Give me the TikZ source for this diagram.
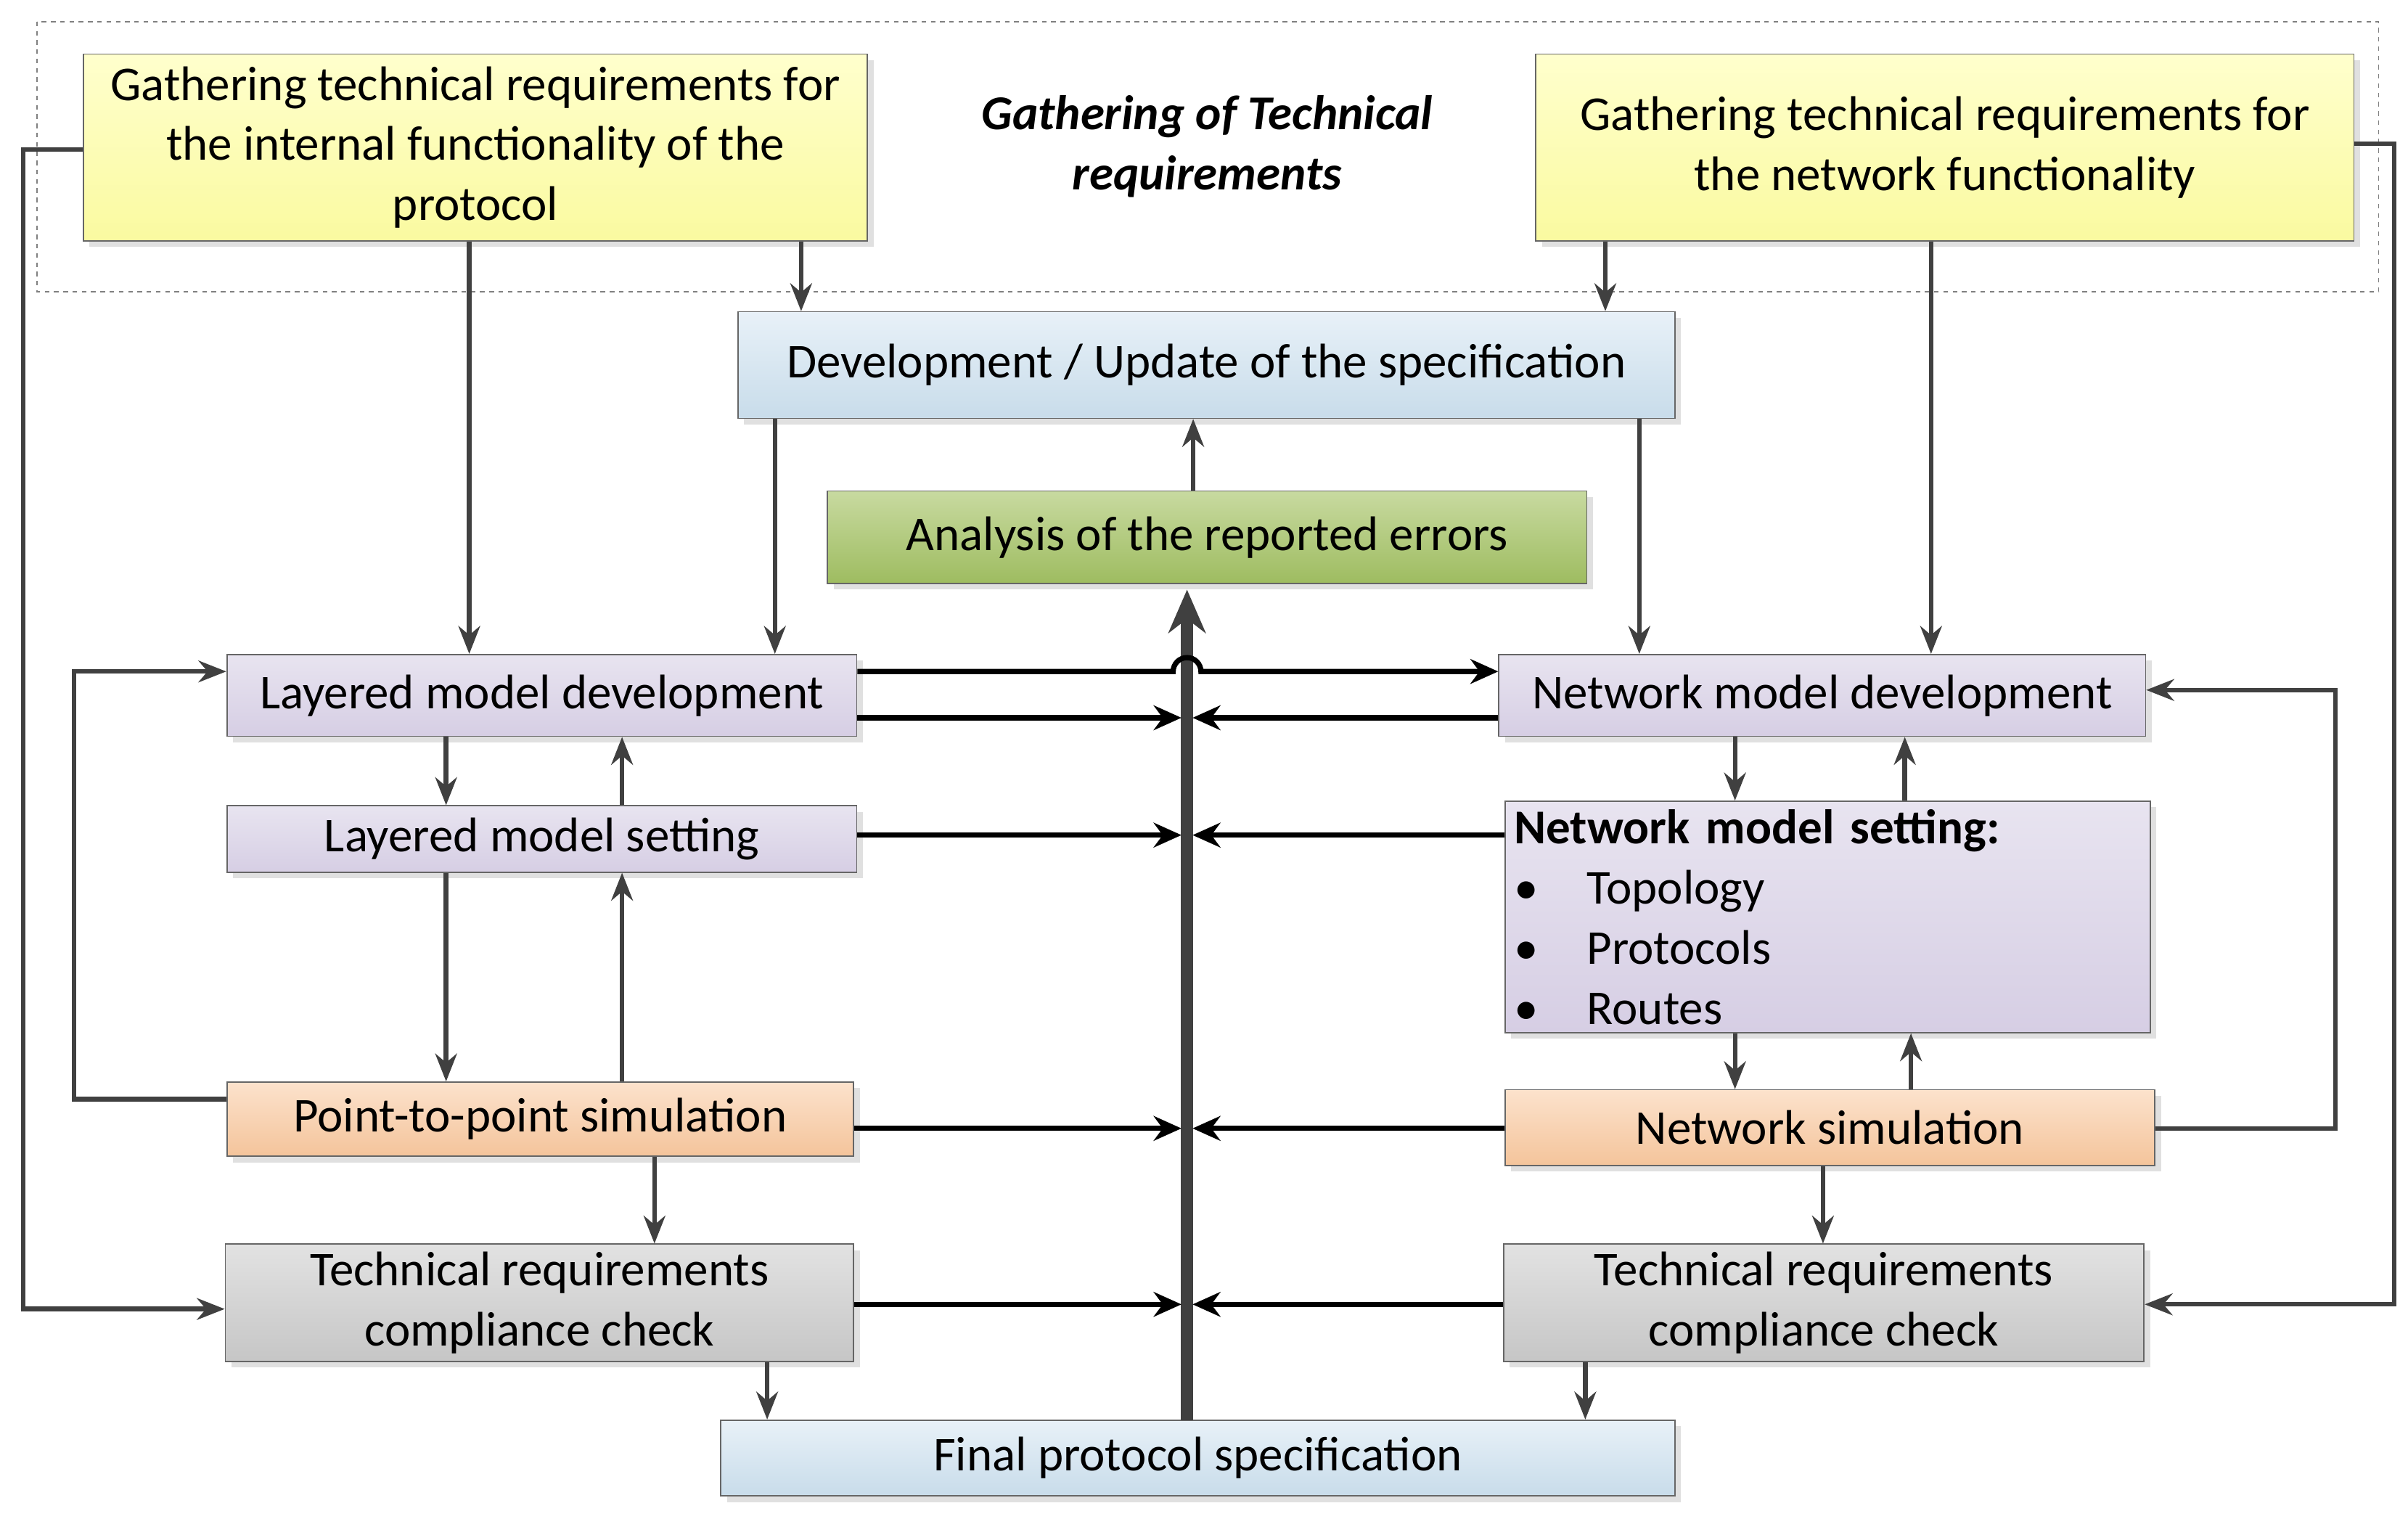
\documentclass[tikz,border=0pt]{standalone}
\usepackage{fontspec}
\setmainfont{Carlito}
\usetikzlibrary{arrows.meta,shadows}
\definecolor{yellowtop}{RGB}{255,255,205}
\definecolor{yellowbot}{RGB}{250,250,160}
\definecolor{bluetop}{RGB}{232,241,248}
\definecolor{bluebot}{RGB}{200,220,234}
\definecolor{greentop}{RGB}{200,218,160}
\definecolor{greenbot}{RGB}{158,188,96}
\definecolor{lilactop}{RGB}{232,228,240}
\definecolor{lilacbot}{RGB}{214,206,228}
\definecolor{peachtop}{RGB}{252,226,204}
\definecolor{peachbot}{RGB}{244,196,155}
\definecolor{greytop}{RGB}{226,226,226}
\definecolor{greybot}{RGB}{198,198,198}
\definecolor{linegrey}{RGB}{64,64,64}
\tikzset{
  box/.style={draw=gray!80!black, line width=0.8pt, inner sep=2pt, align=center,
    font=\fontsize{31.5}{39}\selectfont,
    drop shadow={shadow xshift=4pt, shadow yshift=-4pt, fill=black!12, opacity=1}},
  yellowbox/.style={box, top color=yellowtop, bottom color=yellowbot},
  bluebox/.style={box, top color=bluetop, bottom color=bluebot},
  greenbox/.style={box, top color=greentop, bottom color=greenbot},
  lilacbox/.style={box, top color=lilactop, bottom color=lilacbot},
  peachbox/.style={box, top color=peachtop, bottom color=peachbot},
  greybox/.style={box, top color=greytop, bottom color=greybot},
  flow/.style={draw=linegrey, line width=3pt, -{Stealth[length=18pt,width=14pt]}},
  tobus/.style={draw=black, line width=3.4pt, -{Stealth[length=18pt,width=16pt]}},
}
\begin{document}
\begin{tikzpicture}[x=1pt,y=-1pt]
\useasboundingbox (0,0) rectangle (1560,984);
% dashed frame of the requirement stage
\draw[gray, dashed, line width=0.8pt] (24,14) rectangle (1541,189);
\node[font=\fontsize{31.5}{39}\selectfont\bfseries\itshape, align=center] (title) at (782,95)
  {Gathering of Technical\\requirements};

% boxes
\node[yellowbox, minimum width=508pt, minimum height=121pt] (lreq) at (308,95.5)
  {Gathering technical requirements for\\the internal functionality of the\\protocol};
\node[yellowbox, minimum width=530pt, minimum height=121pt] (nreq) at (1260,95.5)
  {Gathering technical requirements for\\the network functionality};
\node[bluebox, minimum width=607pt, minimum height=69pt] (spec) at (781.5,236.5)
  {Development / Update of the specification};
\node[greenbox, minimum width=492pt, minimum height=60pt] (errors) at (782,348)
  {Analysis of the reported errors};
\node[lilacbox, minimum width=408pt, minimum height=53pt] (ldev) at (351,450.5)
  {Layered model development};
\node[lilacbox, minimum width=408pt, minimum height=43pt] (lset) at (351,543.5)
  {Layered model setting};
\node[peachbox, minimum width=406pt, minimum height=48pt] (lsim) at (350,725)
  {Point-to-point simulation};
\node[greybox, minimum width=407pt, minimum height=76pt] (lcheck) at (349.5,844)
  {Technical requirements\\compliance check};
\node[bluebox, minimum width=618pt, minimum height=49pt] (final) at (776,944.5)
  {Final protocol specification};
\node[lilacbox, minimum width=419pt, minimum height=53pt] (ndev) at (1180.5,450.5)
  {Network model development};
\node[lilacbox, minimum width=418pt, minimum height=150pt, align=left, inner xsep=6pt,
  text width=406pt] (nset) at (1184,594)
  {\textbf{Network model setting:}\\
   \makebox[47pt][l]{\textbullet}Topology\\
   \makebox[47pt][l]{\textbullet}Protocols\\
   \makebox[47pt][l]{\textbullet}Routes};
\node[peachbox, minimum width=421pt, minimum height=49pt] (nsim) at (1185.5,730.5)
  {Network simulation};
\node[greybox, minimum width=415pt, minimum height=76pt] (ncheck) at (1181.5,844)
  {Technical requirements\\compliance check};

% central error bus
\coordinate (bustop) at (769,382);
\draw[linegrey, line width=8pt, -{Stealth[length=28pt,width=24pt]}] (769,920) -- (bustop);

% vertical flows
\draw[flow] ([xshift=-4pt]lreq.south) -- ([xshift=-47pt]ldev.north);
\draw[flow] ([xshift=211pt]lreq.south) -- ([xshift=-262.5pt]spec.north);
\draw[flow] ([xshift=-220pt]nreq.south) -- ([xshift=258.5pt]spec.north);
\draw[flow] ([xshift=-9pt]nreq.south) -- ([xshift=70.5pt]ndev.north);
\draw[flow] ([xshift=-279.5pt]spec.south) -- ([xshift=151pt]ldev.north);
\draw[flow] ([xshift=280.5pt]spec.south) -- ([xshift=-118.5pt]ndev.north);
\draw[flow] ([xshift=-9pt]errors.north) -- ([xshift=-8.5pt]spec.south);
\draw[flow] ([xshift=-62pt]ldev.south) -- ([xshift=-62pt]lset.north);
\draw[flow] ([xshift=52pt]lset.north) -- ([xshift=52pt]ldev.south);
\draw[flow] ([xshift=-62pt]lset.south) -- ([xshift=-61pt]lsim.north);
\draw[flow] ([xshift=53pt]lsim.north) -- ([xshift=52pt]lset.south);
\draw[flow] ([xshift=74pt]lsim.south) -- ([xshift=74.5pt]lcheck.north);
\draw[flow] ([xshift=-56.5pt]ndev.south) -- ([xshift=-60pt]nset.north);
\draw[flow] ([xshift=50pt]nset.north) -- ([xshift=53.5pt]ndev.south);
\draw[flow] ([xshift=-60pt]nset.south) -- ([xshift=-61.5pt]nsim.north);
\draw[flow] ([xshift=52.5pt]nsim.north) -- ([xshift=54pt]nset.south);
\draw[flow] ([xshift=-4.5pt]nsim.south) -- ([xshift=-0.5pt]ncheck.north);
\draw[flow] ([xshift=147.5pt]lcheck.south) -- ([xshift=-279pt]final.north);
\draw[flow] ([xshift=-154.5pt]ncheck.south) -- ([xshift=251pt]final.north);

% feedback loops
\draw[flow] ([yshift=13pt]lsim.west) -| (48,435) -- ([yshift=15.5pt]ldev.west);
\draw[flow] ([yshift=-1.5pt]lreq.west) -| (15,848) -- ([yshift=-4pt]lcheck.west);
\draw[flow] ([yshift=2.5pt]nreq.east) -| (1551,845) -- ([yshift=-1pt]ncheck.east);
\draw[flow] ([yshift=-0.5pt]nsim.east) -| (1513,447) -- ([yshift=3.5pt]ndev.east);

% links to the bus
\draw[tobus] ([yshift=15.5pt]ldev.east) -- (760,435) arc (180:360:9) -- ([yshift=15.5pt]ndev.west);
\draw[tobus] ([yshift=-14.5pt]ldev.east) -- +(210,0);
\draw[tobus] ([yshift=-14.5pt]ndev.west) -- +(-198,0);
\draw[tobus] ([yshift=2.5pt]lset.east) -- +(210,0);
\draw[tobus] ([yshift=53pt]nset.west) -- +(-202,0);
\draw[tobus] ([yshift=-6pt]lsim.east) -- +(212,0);
\draw[tobus] ([yshift=-0.5pt]nsim.west) -- +(-202,0);
\draw[tobus] ([yshift=-1pt]lcheck.east) -- +(212,0);
\draw[tobus] ([yshift=-1pt]ncheck.west) -- +(-201,0);
\end{tikzpicture}
\end{document}
